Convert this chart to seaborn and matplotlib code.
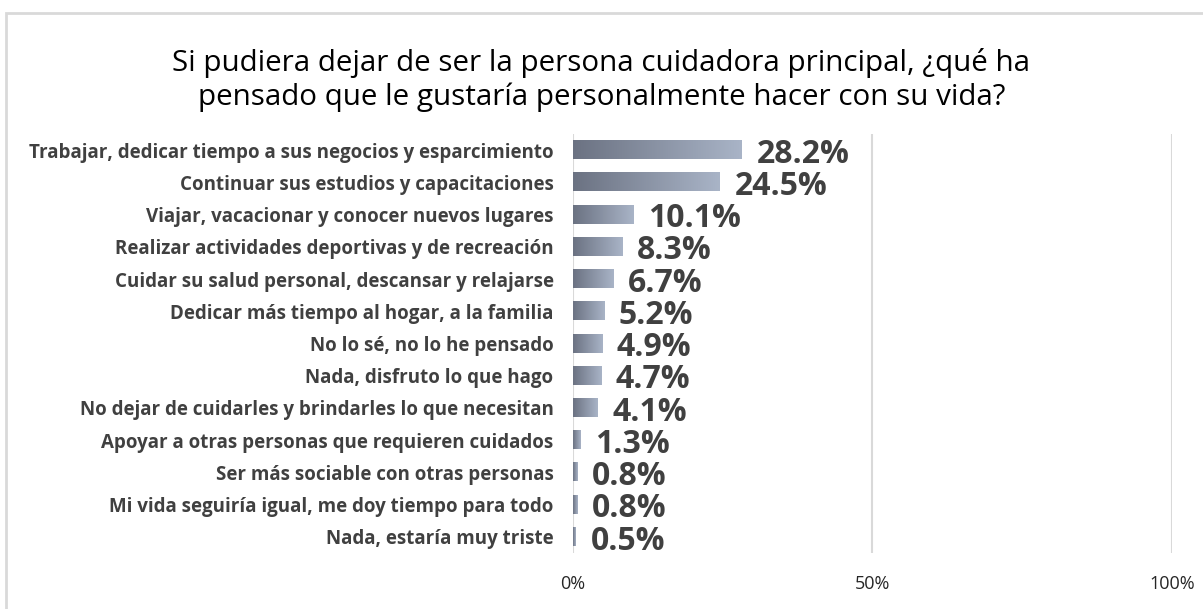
import numpy as np
import pandas as pd
import matplotlib
matplotlib.use("Agg")
import matplotlib.pyplot as plt
from matplotlib.colors import LinearSegmentedColormap
from matplotlib.patches import Rectangle
import seaborn as sns

categories = [
    "Trabajar, dedicar tiempo a sus negocios y esparcimiento",
    "Continuar sus estudios y capacitaciones",
    "Viajar, vacacionar y conocer nuevos lugares",
    "Realizar actividades deportivas y de recreación",
    "Cuidar su salud personal, descansar y relajarse",
    "Dedicar más tiempo al hogar, a la familia",
    "No lo sé, no lo he pensado",
    "Nada, disfruto lo que hago",
    "No dejar de cuidarles y brindarles lo que necesitan",
    "Apoyar a otras personas que requieren cuidados",
    "Ser más sociable con otras personas",
    "Mi vida seguiría igual, me doy tiempo para todo",
    "Nada, estaría muy triste",
]
values = [28.2, 24.5, 10.1, 8.3, 6.7, 5.2, 4.9, 4.7, 4.1, 1.3, 0.8, 0.8, 0.5]
tick_values = [0, 50, 100]
tick_labels = ["0%", "50%", "100%"]
title = ("Si pudiera dejar de ser la persona cuidadora principal, ¿qué ha\n"
         "pensado que le gustaría personalmente hacer con su vida?")

df = pd.DataFrame({"categoria": categories, "valor": values})

sns.set_theme(style="white")
plt.rcParams["font.family"] = ["Open Sans", "DejaVu Sans"]

text_color = "#404040"
grid_color = "#d9d9d9"

fig = plt.figure(figsize=(12.03, 6.09), dpi=100)
ax = fig.add_axes([0.4763, 0.092, 0.4979, 0.688])

sns.barplot(data=df, x="valor", y="categoria", orient="h", ax=ax,
            color="#8d97a8", width=0.56, saturation=1, edgecolor="none")

# gradient fill for each bar
cmap = LinearSegmentedColormap.from_list("bar", ["#6b7282", "#a9b4c7"])
grad = np.linspace(0, 1, 256).reshape(1, -1)
for p in ax.patches:
    x0, y0 = p.get_x(), p.get_y()
    w, h = p.get_width(), p.get_height()
    p.set_visible(False)
    ax.imshow(grad, cmap=cmap, aspect="auto", extent=(x0, x0 + w, y0 + h, y0),
              interpolation="bicubic", zorder=2)

ax.set_xlim(0, 100)
ax.set_ylim(len(categories) - 0.5, -0.5)

for i, v in enumerate(values):
    ax.annotate(f"{v:.1f}%", xy=(v, i), xytext=(10.5, -3), textcoords="offset points",
                ha="left", va="center", fontsize=23, fontweight="bold",
                color=text_color)

ax.set_xticks(tick_values)
ax.set_xticklabels(tick_labels, fontsize=13, color="#262626")
ax.tick_params(axis="x", length=0, pad=16)
ax.tick_params(axis="y", length=0, pad=14)
for lab in ax.get_yticklabels():
    lab.set_fontsize(13.5)
    lab.set_fontweight("bold")
    lab.set_color(text_color)

for t in tick_values:
    ax.axvline(t, color=grid_color, lw=1.5, zorder=1)
for s in ax.spines.values():
    s.set_visible(False)
ax.set_xlabel("")
ax.set_ylabel("")

fig.text(0.5, 0.868, title, ha="center", va="center", fontsize=21.3,
         color="#000000", linespacing=1.2)

# chart frame
fig.patches.append(Rectangle((6 / 1203, -0.1), 1.2, (609 - 13) / 609 + 0.1,
                             transform=fig.transFigure, fill=False,
                             edgecolor=grid_color, lw=2))

fig.savefig("out.png", dpi=100)
